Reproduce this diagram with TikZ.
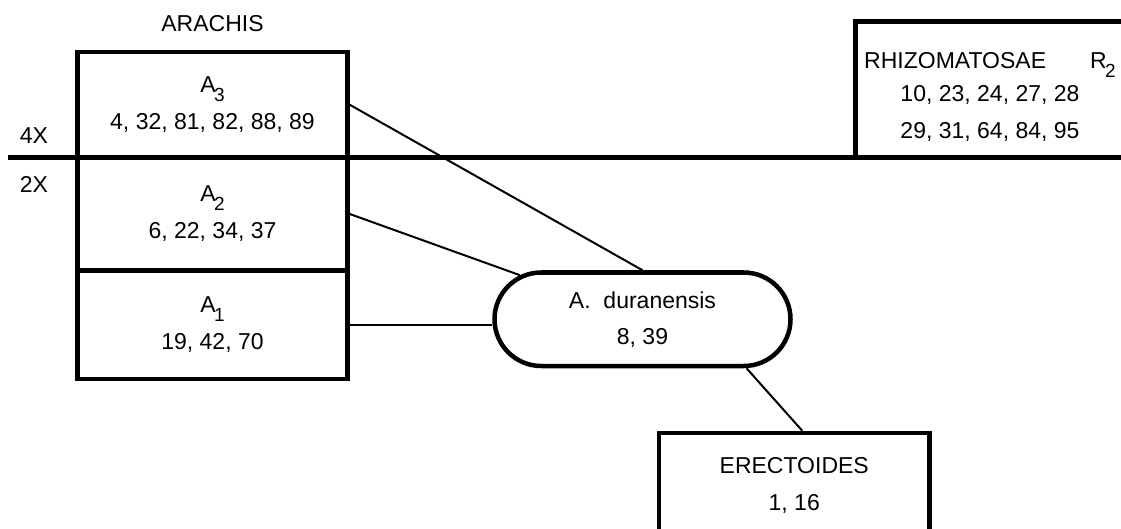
\documentclass[tikz,border=0pt]{standalone}
\usepackage{fontspec}
\setmainfont{Liberation Sans}
\usetikzlibrary{positioning, shapes.misc, calc}
\newcommand{\subx}[2]{#1\kern-1.5pt\raisebox{-8.5pt}{\fontsize{19}{19}\selectfont #2}}

\begin{document}
\begin{tikzpicture}[x=1pt,y=-1pt,
    font=\fontsize{23}{37}\selectfont,
    sect/.style={draw,line width=4.5pt,minimum width=270pt,inner sep=0pt,align=center},
    link/.style={line width=2pt}]
        \useasboundingbox (0,0) rectangle (1121,529);
        \clip (0,0) rectangle (1121,529);
        % Ploidy level
        \coordinate (lvlw) at (8,157.5);
        \coordinate (lvle) at (1121,157.5);
        \draw[line width=4.5pt] (lvlw) -- (lvle);
        \node (tetra) at (34,136) {4X};
        \node (dipl) at (34,184) {2X};
        % Section Arachis
        \node (arachis) at (212.5,24) {ARACHIS};
        \node[sect,minimum height=105.5pt] (a3) at (212.5,104.75) {\subx{A}{3}\\4, 32, 81, 82, 88, 89};
        \node[sect,minimum height=113pt] (a2) at (212.5,214) {\subx{A}{2}\\6, 22, 34, 37};
        \node[sect,minimum height=108.5pt] (a1) at (212.5,324.75) {\subx{A}{1}\\19, 42, 70};
        % Other sections
        \node[sect,minimum width=294.5pt,minimum height=136pt] (rhiz) at (1002.75,89.5) {};
        \node[align=center,font=\fontsize{23}{33}\selectfont] (rhiztxt) at (990,97)
          {RHIZOMATOSAE\hspace{44pt}\subx{R}{2}\\10, 23, 24, 27, 28\\[4pt]29, 31, 64, 84, 95};
        \node[sect,minimum width=270.5pt,minimum height=104pt] (erect) at (794.25,485) {ERECTOIDES\\1, 16};
        % A. duranensis
        \node[draw,line width=4.5pt,rounded rectangle,minimum width=296pt,minimum height=93.5pt,
          inner sep=0pt,align=center,font=\fontsize{23}{36}\selectfont] (dur) at (642.5,319.25)
          {A.~~duranensis\\8, 39};
        % Links
        \draw[link] (a3.east) -- (dur.north);
        \draw[link] (a2.east) -- (dur);
        \draw[link] (a1.east) -- (a1.east -| dur.west);
        \draw[link] ([xshift=104pt]dur.south) -- ([xshift=8pt]erect.north);
    \end{tikzpicture}
\end{document}
